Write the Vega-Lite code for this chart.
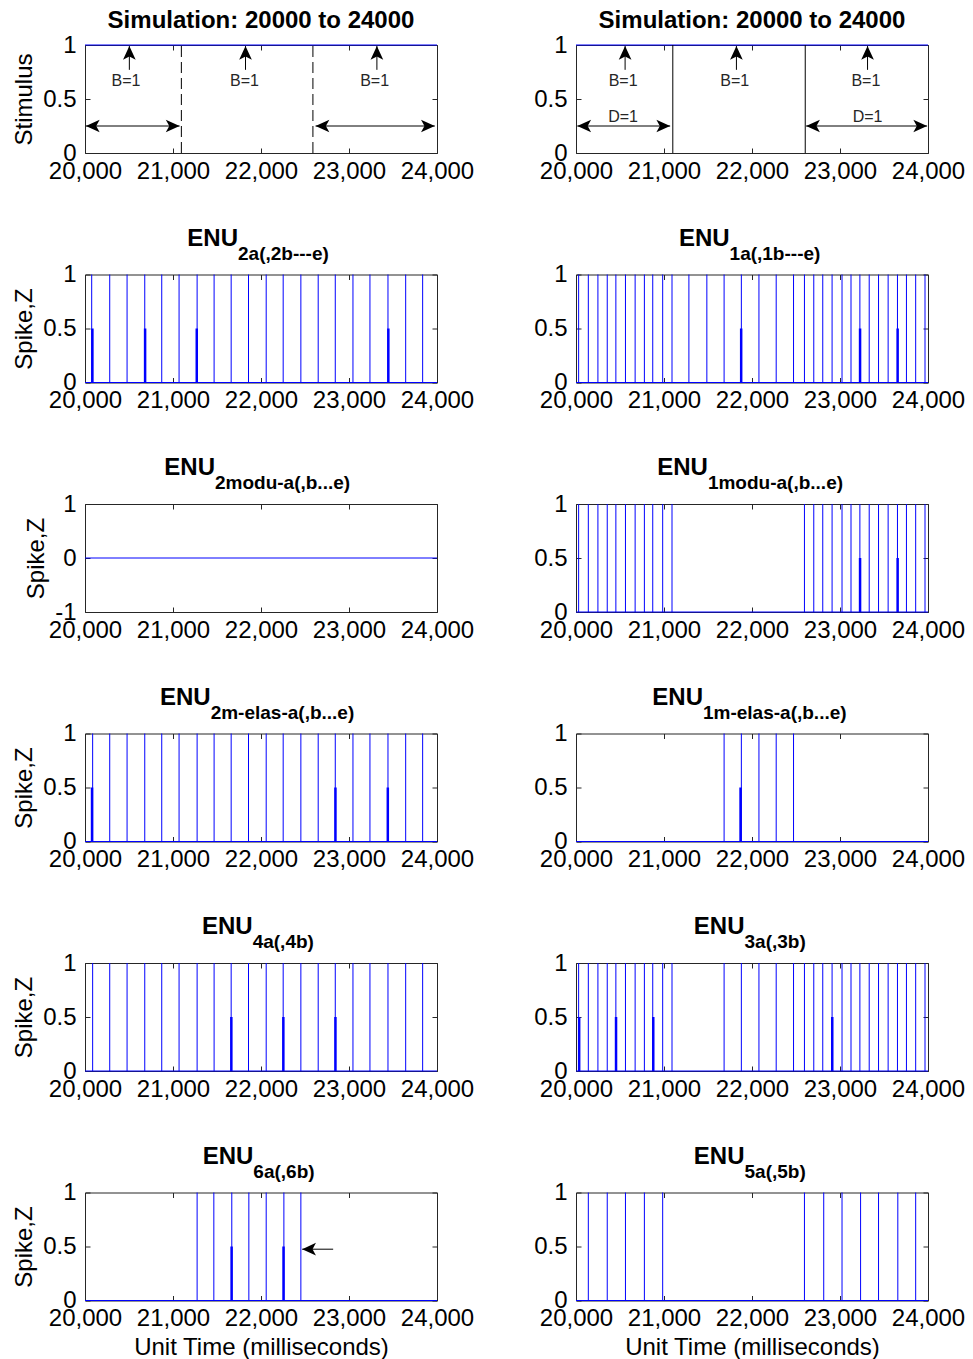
{
"$schema": "https://vega.github.io/schema/vega-lite/v6.json",
"autosize": {"type": "pad"},
"padding": {"left": 11, "top": 8, "right": 0, "bottom": 0},
"background": "white",
"bounds": "flush",
"columns": 2,
"spacing": {"row": 121.5, "column": 139},
"datasets": {
"enu2a": [{"t":20076,"z":1},{"t":20281,"z":1},{"t":20478,"z":1},{"t":20679,"z":1},{"t":20872,"z":1},{"t":21069,"z":1},{"t":21274,"z":1},{"t":21467,"z":1},{"t":21661,"z":1},{"t":21858,"z":1},{"t":22059,"z":1},{"t":22252,"z":1},{"t":22453,"z":1},{"t":22650,"z":1},{"t":22844,"z":1},{"t":23045,"z":1},{"t":23238,"z":1},{"t":23443,"z":1},{"t":23644,"z":1},{"t":23837,"z":1},{"t":20084,"z":0.5},{"t":20683,"z":0.5},{"t":21270,"z":0.5},{"t":23447,"z":0.5}],
"enu1a": [{"t":20030,"z":1},{"t":20140,"z":1},{"t":20249,"z":1},{"t":20355,"z":1},{"t":20453,"z":1},{"t":20562,"z":1},{"t":20672,"z":1},{"t":20777,"z":1},{"t":20872,"z":1},{"t":20985,"z":1},{"t":21091,"z":1},{"t":21283,"z":1},{"t":21487,"z":1},{"t":21683,"z":1},{"t":21879,"z":1},{"t":22079,"z":1},{"t":22275,"z":1},{"t":22472,"z":1},{"t":22596,"z":1},{"t":22702,"z":1},{"t":22804,"z":1},{"t":22910,"z":1},{"t":23023,"z":1},{"t":23125,"z":1},{"t":23226,"z":1},{"t":23332,"z":1},{"t":23438,"z":1},{"t":23547,"z":1},{"t":23653,"z":1},{"t":23755,"z":1},{"t":23860,"z":1},{"t":23966,"z":1},{"t":21877,"z":0.5},{"t":23228,"z":0.5},{"t":23655,"z":0.5}],
"enu1modu": [{"t":20030,"z":1},{"t":20140,"z":1},{"t":20249,"z":1},{"t":20355,"z":1},{"t":20453,"z":1},{"t":20562,"z":1},{"t":20672,"z":1},{"t":20777,"z":1},{"t":20872,"z":1},{"t":20985,"z":1},{"t":21091,"z":1},{"t":22596,"z":1},{"t":22702,"z":1},{"t":22804,"z":1},{"t":22910,"z":1},{"t":23023,"z":1},{"t":23125,"z":1},{"t":23226,"z":1},{"t":23332,"z":1},{"t":23438,"z":1},{"t":23547,"z":1},{"t":23653,"z":1},{"t":23755,"z":1},{"t":23860,"z":1},{"t":23966,"z":1},{"t":23228,"z":0.5},{"t":23655,"z":0.5}],
"enu2melas": [{"t":20087,"z":1},{"t":20281,"z":1},{"t":20478,"z":1},{"t":20679,"z":1},{"t":20872,"z":1},{"t":21069,"z":1},{"t":21274,"z":1},{"t":21467,"z":1},{"t":21661,"z":1},{"t":21858,"z":1},{"t":22059,"z":1},{"t":22252,"z":1},{"t":22453,"z":1},{"t":22650,"z":1},{"t":22844,"z":1},{"t":23045,"z":1},{"t":23238,"z":1},{"t":23443,"z":1},{"t":23644,"z":1},{"t":23837,"z":1},{"t":20080,"z":0.5},{"t":22846,"z":0.5},{"t":23441,"z":0.5}],
"enu1melas": [{"t":21683,"z":1},{"t":21879,"z":1},{"t":22079,"z":1},{"t":22275,"z":1},{"t":22472,"z":1},{"t":21870,"z":0.5}],
"enu4a": [{"t":20087,"z":1},{"t":20281,"z":1},{"t":20478,"z":1},{"t":20679,"z":1},{"t":20872,"z":1},{"t":21069,"z":1},{"t":21274,"z":1},{"t":21467,"z":1},{"t":21661,"z":1},{"t":21858,"z":1},{"t":22059,"z":1},{"t":22252,"z":1},{"t":22453,"z":1},{"t":22650,"z":1},{"t":22844,"z":1},{"t":23045,"z":1},{"t":23238,"z":1},{"t":23443,"z":1},{"t":23644,"z":1},{"t":23837,"z":1},{"t":21663,"z":0.5},{"t":22254,"z":0.5},{"t":22846,"z":0.5}],
"enu3a": [{"t":20030,"z":1},{"t":20140,"z":1},{"t":20249,"z":1},{"t":20355,"z":1},{"t":20453,"z":1},{"t":20562,"z":1},{"t":20672,"z":1},{"t":20777,"z":1},{"t":20872,"z":1},{"t":20985,"z":1},{"t":21091,"z":1},{"t":21683,"z":1},{"t":21879,"z":1},{"t":22079,"z":1},{"t":22275,"z":1},{"t":22472,"z":1},{"t":22596,"z":1},{"t":22702,"z":1},{"t":22804,"z":1},{"t":22910,"z":1},{"t":23023,"z":1},{"t":23125,"z":1},{"t":23226,"z":1},{"t":23332,"z":1},{"t":23438,"z":1},{"t":23547,"z":1},{"t":23653,"z":1},{"t":23755,"z":1},{"t":23860,"z":1},{"t":23966,"z":1},{"t":20036,"z":0.5},{"t":20455,"z":0.5},{"t":20878,"z":0.5},{"t":22912,"z":0.5}],
"enu6a": [{"t":21274,"z":1},{"t":21464,"z":1},{"t":21668,"z":1},{"t":21862,"z":1},{"t":22059,"z":1},{"t":22260,"z":1},{"t":22453,"z":1},{"t":21666,"z":0.5},{"t":22256,"z":0.5}],
"enu5a": [{"t":20140,"z":1},{"t":20355,"z":1},{"t":20562,"z":1},{"t":20777,"z":1},{"t":20985,"z":1},{"t":22596,"z":1},{"t":22815,"z":1},{"t":23023,"z":1},{"t":23234,"z":1},{"t":23438,"z":1},{"t":23657,"z":1},{"t":23860,"z":1}],
"stimL_bounds": [{"t":21095},{"t":22590}],
"stimR_bounds": [{"t":21100},{"t":22605}],
"stimL_shafts": [{"x":20010,"x2":21075,"y":0.25,"y2":0.25},{"x":22620,"x2":23975,"y":0.25,"y2":0.25},{"x":20504,"x2":20504,"y":0.77,"y2":0.99},{"x":21824,"x2":21824,"y":0.77,"y2":0.99},{"x":23317,"x2":23317,"y":0.77,"y2":0.99}],
"stimL_heads": [{"x":20010,"y":0.25,"dir":"left"},{"x":21075,"y":0.25,"dir":"right"},{"x":22620,"y":0.25,"dir":"left"},{"x":23975,"y":0.25,"dir":"right"},{"x":20504,"y":0.99,"dir":"up"},{"x":21824,"y":0.99,"dir":"up"},{"x":23317,"y":0.99,"dir":"up"}],
"stimL_text": [{"x":20466,"y":0.665,"label":"B=1"},{"x":21812,"y":0.665,"label":"B=1"},{"x":23291,"y":0.665,"label":"B=1"}],
"stimR_shafts": [{"x":20015,"x2":21070,"y":0.25,"y2":0.25},{"x":22615,"x2":23990,"y":0.25,"y2":0.25},{"x":20558,"x2":20558,"y":0.77,"y2":0.99},{"x":21823,"x2":21823,"y":0.77,"y2":0.99},{"x":23313,"x2":23313,"y":0.77,"y2":0.99}],
"stimR_heads": [{"x":20015,"y":0.25,"dir":"left"},{"x":21070,"y":0.25,"dir":"right"},{"x":22615,"y":0.25,"dir":"left"},{"x":23990,"y":0.25,"dir":"right"},{"x":20558,"y":0.99,"dir":"up"},{"x":21823,"y":0.99,"dir":"up"},{"x":23313,"y":0.99,"dir":"up"}],
"stimR_text": [{"x":20535,"y":0.665,"label":"B=1"},{"x":21804,"y":0.665,"label":"B=1"},{"x":23294,"y":0.665,"label":"B=1"},{"x":20535,"y":0.332,"label":"D=1"},{"x":23313,"y":0.332,"label":"D=1"}],
"enu6a_shaft": [{"x":22468,"x2":22820,"y":0.475,"y2":0.475}],
"enu6a_head": [{"x":22468,"y":0.475,"dir":"left"}],
"base0": [{"level":0}],
"base1": [{"level":1}]
},
"concat": [
{"width":352,"height":108,
 "title":{"text":"Simulation: 20000 to 24000","offset":-19,"baseline":"alphabetic","frame":"group"},
 "resolve":{"axis":{"x":"independent","y":"independent"}},
 "layer":[
  {"data":{"name":"base1"},"mark":{"type":"rule","color":"#0000ff"},
   "encoding":{"x":{"datum":20000,"type":"quantitative","scale":{"domain":[20000,24000],"nice":false,"zero":false},"axis":{"orient":"bottom","values":[20000,21000,22000,23000,24000],"format":",d","labelBaseline":"alphabetic","labelPadding":30,"title":null}},"x2":{"datum":24000},
    "y":{"field":"level","type":"quantitative","scale":{"domain":[0,1],"nice":false},"axis":{"orient":"left","values":[0,0.5,1],"labelExpr":"'' + datum.value","labelPadding":14,"title":"Stimulus","titleX":-54,"titleBaseline":"alphabetic"}}}},
  {"data":{"name":"stimL_bounds"},"mark":{"type":"rule","color":"#000","strokeDash":[11,5]},
   "encoding":{"x":{"field":"t","type":"quantitative","axis":{"orient":"top","values":[20000,21000,22000,23000,24000],"labels":false,"title":null}},"y":{"datum":0,"type":"quantitative","axis":{"orient":"right","values":[0,0.5,1],"labels":false,"title":null}},"y2":{"datum":1}}},
  {"data":{"name":"stimL_shafts"},"mark":{"type":"rule","color":"#000"},
   "encoding":{"x":{"field":"x","type":"quantitative","axis":null},"x2":{"field":"x2"},"y":{"field":"y","type":"quantitative","axis":null},"y2":{"field":"y2"}}},
  {"data":{"name":"stimL_heads"},"mark":{"type":"point","filled":true,"opacity":1,"color":"#000","size":190,"strokeWidth":0},
   "encoding":{"x":{"field":"x","type":"quantitative","axis":null},"y":{"field":"y","type":"quantitative","axis":null},"shape":{"field":"dir","type":"nominal","scale":{"domain":["up","right","left"],"range":["M0,0L0.92,2L0,1.5L-0.92,2Z","M0,0L-2,0.92L-1.5,0L-2,-0.92Z","M0,0L2,-0.92L1.5,0L2,0.92Z"]},"legend":null}}},
  {"data":{"name":"stimL_text"},"mark":{"type":"text","fontSize":16,"color":"#262626","baseline":"middle"},
   "encoding":{"x":{"field":"x","type":"quantitative","axis":null},"y":{"field":"y","type":"quantitative","axis":null},"text":{"field":"label"}}}
 ]},
{"width":352,"height":108,
 "title":{"text":"Simulation: 20000 to 24000","offset":-19,"baseline":"alphabetic","frame":"group"},
 "resolve":{"axis":{"x":"independent","y":"independent"}},
 "layer":[
  {"data":{"name":"base1"},"mark":{"type":"rule","color":"#0000ff"},
   "encoding":{"x":{"datum":20000,"type":"quantitative","scale":{"domain":[20000,24000],"nice":false,"zero":false},"axis":{"orient":"bottom","values":[20000,21000,22000,23000,24000],"format":",d","labelBaseline":"alphabetic","labelPadding":30,"title":null}},"x2":{"datum":24000},
    "y":{"field":"level","type":"quantitative","scale":{"domain":[0,1],"nice":false},"axis":{"orient":"left","values":[0,0.5,1],"labelExpr":"'' + datum.value","labelPadding":14,"title":null}}}},
  {"data":{"name":"stimR_bounds"},"mark":{"type":"rule","color":"#000"},
   "encoding":{"x":{"field":"t","type":"quantitative","axis":{"orient":"top","values":[20000,21000,22000,23000,24000],"labels":false,"title":null}},"y":{"datum":0,"type":"quantitative","axis":{"orient":"right","values":[0,0.5,1],"labels":false,"title":null}},"y2":{"datum":1}}},
  {"data":{"name":"stimR_shafts"},"mark":{"type":"rule","color":"#000"},
   "encoding":{"x":{"field":"x","type":"quantitative","axis":null},"x2":{"field":"x2"},"y":{"field":"y","type":"quantitative","axis":null},"y2":{"field":"y2"}}},
  {"data":{"name":"stimR_heads"},"mark":{"type":"point","filled":true,"opacity":1,"color":"#000","size":190,"strokeWidth":0},
   "encoding":{"x":{"field":"x","type":"quantitative","axis":null},"y":{"field":"y","type":"quantitative","axis":null},"shape":{"field":"dir","type":"nominal","scale":{"domain":["up","right","left"],"range":["M0,0L0.92,2L0,1.5L-0.92,2Z","M0,0L-2,0.92L-1.5,0L-2,-0.92Z","M0,0L2,-0.92L1.5,0L2,0.92Z"]},"legend":null}}},
  {"data":{"name":"stimR_text"},"mark":{"type":"text","fontSize":16,"color":"#262626","baseline":"middle"},
   "encoding":{"x":{"field":"x","type":"quantitative","axis":null},"y":{"field":"y","type":"quantitative","axis":null},"text":{"field":"label"}}}
 ]},
{"width":352,"height":108,
 "resolve":{"axis":{"x":"independent","y":"independent"}},
 "layer":[
  {"data":{"name":"enu2a"},"mark":{"type":"rule","color":"#0000ff"},
   "encoding":{"x":{"field":"t","type":"quantitative","scale":{"domain":[20000,24000],"nice":false,"zero":false},"axis":{"orient":"bottom","values":[20000,21000,22000,23000,24000],"format":",d","labelBaseline":"alphabetic","labelPadding":30,"title":null}},
    "y":{"field":"z","type":"quantitative","scale":{"domain":[0,1],"nice":false},"axis":{"orient":"left","values":[0,0.5,1],"labelExpr":"'' + datum.value","labelPadding":14,"title":"Spike,Z","titleX":-54,"titleBaseline":"alphabetic"}},
    "y2":{"datum":0},
    "strokeWidth":{"condition":{"test":"datum.z < 1","value":2.5},"value":1}}},
  {"data":{"name":"base0"},"mark":{"type":"rule","color":"#0000ff"},
   "encoding":{"x":{"datum":20000,"type":"quantitative","axis":{"orient":"top","values":[20000,21000,22000,23000,24000],"labels":false,"title":null}},"x2":{"datum":24000},"y":{"field":"level","type":"quantitative","axis":{"orient":"right","values":[0,0.5,1],"labels":false,"title":null}}}},
  {"data":{"values":[{"main":"ENU","sub":"2a(,2b---e)"}]},"mark":{"type":"text","align":"right","baseline":"alphabetic","dy":-29,"fontSize":24,"fontWeight":"bold","color":"#000"},
   "encoding":{"x":{"datum":21739,"type":"quantitative","axis":null},"y":{"datum":1,"type":"quantitative","axis":null},"text":{"field":"main"}}},
  {"data":{"values":[{"main":"ENU","sub":"2a(,2b---e)"}]},"mark":{"type":"text","align":"left","baseline":"alphabetic","dy":-15,"fontSize":19,"fontWeight":"bold","color":"#000"},
   "encoding":{"x":{"datum":21739,"type":"quantitative","axis":null},"y":{"datum":1,"type":"quantitative","axis":null},"text":{"field":"sub"}}}
 ]},
{"width":352,"height":108,
 "resolve":{"axis":{"x":"independent","y":"independent"}},
 "layer":[
  {"data":{"name":"enu1a"},"mark":{"type":"rule","color":"#0000ff"},
   "encoding":{"x":{"field":"t","type":"quantitative","scale":{"domain":[20000,24000],"nice":false,"zero":false},"axis":{"orient":"bottom","values":[20000,21000,22000,23000,24000],"format":",d","labelBaseline":"alphabetic","labelPadding":30,"title":null}},
    "y":{"field":"z","type":"quantitative","scale":{"domain":[0,1],"nice":false},"axis":{"orient":"left","values":[0,0.5,1],"labelExpr":"'' + datum.value","labelPadding":14,"title":null}},
    "y2":{"datum":0},
    "strokeWidth":{"condition":{"test":"datum.z < 1","value":2.5},"value":1}}},
  {"data":{"name":"base0"},"mark":{"type":"rule","color":"#0000ff"},
   "encoding":{"x":{"datum":20000,"type":"quantitative","axis":{"orient":"top","values":[20000,21000,22000,23000,24000],"labels":false,"title":null}},"x2":{"datum":24000},"y":{"field":"level","type":"quantitative","axis":{"orient":"right","values":[0,0.5,1],"labels":false,"title":null}}}},
  {"data":{"values":[{"main":"ENU","sub":"1a(,1b---e)"}]},"mark":{"type":"text","align":"right","baseline":"alphabetic","dy":-29,"fontSize":24,"fontWeight":"bold","color":"#000"},
   "encoding":{"x":{"datum":21745,"type":"quantitative","axis":null},"y":{"datum":1,"type":"quantitative","axis":null},"text":{"field":"main"}}},
  {"data":{"values":[{"main":"ENU","sub":"1a(,1b---e)"}]},"mark":{"type":"text","align":"left","baseline":"alphabetic","dy":-15,"fontSize":19,"fontWeight":"bold","color":"#000"},
   "encoding":{"x":{"datum":21745,"type":"quantitative","axis":null},"y":{"datum":1,"type":"quantitative","axis":null},"text":{"field":"sub"}}}
 ]},
{"width":352,"height":108,
 "resolve":{"axis":{"x":"independent","y":"independent"}},
 "layer":[
  {"data":{"name":"base0"},"mark":{"type":"rule","color":"#0000ff"},
   "encoding":{"x":{"datum":20000,"type":"quantitative","scale":{"domain":[20000,24000],"nice":false,"zero":false},"axis":{"orient":"bottom","values":[20000,21000,22000,23000,24000],"format":",d","labelBaseline":"alphabetic","labelPadding":30,"title":null}},"x2":{"datum":24000},
    "y":{"field":"level","type":"quantitative","scale":{"domain":[-1,1],"nice":false},"axis":{"orient":"left","values":[-1,0,1],"labelExpr":"'' + datum.value","labelPadding":14,"title":"Spike,Z","titleX":-42,"titleBaseline":"alphabetic"}}}},
  {"data":{"values":[{"main":"ENU","sub":"2modu-a(,b...e)"}]},"mark":{"type":"text","align":"right","baseline":"alphabetic","dy":-29,"fontSize":24,"fontWeight":"bold","color":"#000"},
   "encoding":{"x":{"datum":21477,"type":"quantitative","axis":{"orient":"top","values":[20000,21000,22000,23000,24000],"labels":false,"title":null}},"y":{"datum":1,"type":"quantitative","axis":{"orient":"right","values":[-1,0,1],"labels":false,"title":null}},"text":{"field":"main"}}},
  {"data":{"values":[{"main":"ENU","sub":"2modu-a(,b...e)"}]},"mark":{"type":"text","align":"left","baseline":"alphabetic","dy":-15,"fontSize":19,"fontWeight":"bold","color":"#000"},
   "encoding":{"x":{"datum":21477,"type":"quantitative","axis":null},"y":{"datum":1,"type":"quantitative","axis":null},"text":{"field":"sub"}}}
 ]},
{"width":352,"height":108,
 "resolve":{"axis":{"x":"independent","y":"independent"}},
 "layer":[
  {"data":{"name":"enu1modu"},"mark":{"type":"rule","color":"#0000ff"},
   "encoding":{"x":{"field":"t","type":"quantitative","scale":{"domain":[20000,24000],"nice":false,"zero":false},"axis":{"orient":"bottom","values":[20000,21000,22000,23000,24000],"format":",d","labelBaseline":"alphabetic","labelPadding":30,"title":null}},
    "y":{"field":"z","type":"quantitative","scale":{"domain":[0,1],"nice":false},"axis":{"orient":"left","values":[0,0.5,1],"labelExpr":"'' + datum.value","labelPadding":14,"title":null}},
    "y2":{"datum":0},
    "strokeWidth":{"condition":{"test":"datum.z < 1","value":2.5},"value":1}}},
  {"data":{"name":"base0"},"mark":{"type":"rule","color":"#0000ff"},
   "encoding":{"x":{"datum":20000,"type":"quantitative","axis":{"orient":"top","values":[20000,21000,22000,23000,24000],"labels":false,"title":null}},"x2":{"datum":24000},"y":{"field":"level","type":"quantitative","axis":{"orient":"right","values":[0,0.5,1],"labels":false,"title":null}}}},
  {"data":{"values":[{"main":"ENU","sub":"1modu-a(,b...e)"}]},"mark":{"type":"text","align":"right","baseline":"alphabetic","dy":-29,"fontSize":24,"fontWeight":"bold","color":"#000"},
   "encoding":{"x":{"datum":21499,"type":"quantitative","axis":null},"y":{"datum":1,"type":"quantitative","axis":null},"text":{"field":"main"}}},
  {"data":{"values":[{"main":"ENU","sub":"1modu-a(,b...e)"}]},"mark":{"type":"text","align":"left","baseline":"alphabetic","dy":-15,"fontSize":19,"fontWeight":"bold","color":"#000"},
   "encoding":{"x":{"datum":21499,"type":"quantitative","axis":null},"y":{"datum":1,"type":"quantitative","axis":null},"text":{"field":"sub"}}}
 ]},
{"width":352,"height":108,
 "resolve":{"axis":{"x":"independent","y":"independent"}},
 "layer":[
  {"data":{"name":"enu2melas"},"mark":{"type":"rule","color":"#0000ff"},
   "encoding":{"x":{"field":"t","type":"quantitative","scale":{"domain":[20000,24000],"nice":false,"zero":false},"axis":{"orient":"bottom","values":[20000,21000,22000,23000,24000],"format":",d","labelBaseline":"alphabetic","labelPadding":30,"title":null}},
    "y":{"field":"z","type":"quantitative","scale":{"domain":[0,1],"nice":false},"axis":{"orient":"left","values":[0,0.5,1],"labelExpr":"'' + datum.value","labelPadding":14,"title":"Spike,Z","titleX":-54,"titleBaseline":"alphabetic"}},
    "y2":{"datum":0},
    "strokeWidth":{"condition":{"test":"datum.z < 1","value":2.5},"value":1}}},
  {"data":{"name":"base0"},"mark":{"type":"rule","color":"#0000ff"},
   "encoding":{"x":{"datum":20000,"type":"quantitative","axis":{"orient":"top","values":[20000,21000,22000,23000,24000],"labels":false,"title":null}},"x2":{"datum":24000},"y":{"field":"level","type":"quantitative","axis":{"orient":"right","values":[0,0.5,1],"labels":false,"title":null}}}},
  {"data":{"values":[{"main":"ENU","sub":"2m-elas-a(,b...e)"}]},"mark":{"type":"text","align":"right","baseline":"alphabetic","dy":-29,"fontSize":24,"fontWeight":"bold","color":"#000"},
   "encoding":{"x":{"datum":21428,"type":"quantitative","axis":null},"y":{"datum":1,"type":"quantitative","axis":null},"text":{"field":"main"}}},
  {"data":{"values":[{"main":"ENU","sub":"2m-elas-a(,b...e)"}]},"mark":{"type":"text","align":"left","baseline":"alphabetic","dy":-15,"fontSize":19,"fontWeight":"bold","color":"#000"},
   "encoding":{"x":{"datum":21428,"type":"quantitative","axis":null},"y":{"datum":1,"type":"quantitative","axis":null},"text":{"field":"sub"}}}
 ]},
{"width":352,"height":108,
 "resolve":{"axis":{"x":"independent","y":"independent"}},
 "layer":[
  {"data":{"name":"enu1melas"},"mark":{"type":"rule","color":"#0000ff"},
   "encoding":{"x":{"field":"t","type":"quantitative","scale":{"domain":[20000,24000],"nice":false,"zero":false},"axis":{"orient":"bottom","values":[20000,21000,22000,23000,24000],"format":",d","labelBaseline":"alphabetic","labelPadding":30,"title":null}},
    "y":{"field":"z","type":"quantitative","scale":{"domain":[0,1],"nice":false},"axis":{"orient":"left","values":[0,0.5,1],"labelExpr":"'' + datum.value","labelPadding":14,"title":null}},
    "y2":{"datum":0},
    "strokeWidth":{"condition":{"test":"datum.z < 1","value":2.5},"value":1}}},
  {"data":{"name":"base0"},"mark":{"type":"rule","color":"#0000ff"},
   "encoding":{"x":{"datum":20000,"type":"quantitative","axis":{"orient":"top","values":[20000,21000,22000,23000,24000],"labels":false,"title":null}},"x2":{"datum":24000},"y":{"field":"level","type":"quantitative","axis":{"orient":"right","values":[0,0.5,1],"labels":false,"title":null}}}},
  {"data":{"values":[{"main":"ENU","sub":"1m-elas-a(,b...e)"}]},"mark":{"type":"text","align":"right","baseline":"alphabetic","dy":-29,"fontSize":24,"fontWeight":"bold","color":"#000"},
   "encoding":{"x":{"datum":21443,"type":"quantitative","axis":null},"y":{"datum":1,"type":"quantitative","axis":null},"text":{"field":"main"}}},
  {"data":{"values":[{"main":"ENU","sub":"1m-elas-a(,b...e)"}]},"mark":{"type":"text","align":"left","baseline":"alphabetic","dy":-15,"fontSize":19,"fontWeight":"bold","color":"#000"},
   "encoding":{"x":{"datum":21443,"type":"quantitative","axis":null},"y":{"datum":1,"type":"quantitative","axis":null},"text":{"field":"sub"}}}
 ]},
{"width":352,"height":108,
 "resolve":{"axis":{"x":"independent","y":"independent"}},
 "layer":[
  {"data":{"name":"enu4a"},"mark":{"type":"rule","color":"#0000ff"},
   "encoding":{"x":{"field":"t","type":"quantitative","scale":{"domain":[20000,24000],"nice":false,"zero":false},"axis":{"orient":"bottom","values":[20000,21000,22000,23000,24000],"format":",d","labelBaseline":"alphabetic","labelPadding":30,"title":null}},
    "y":{"field":"z","type":"quantitative","scale":{"domain":[0,1],"nice":false},"axis":{"orient":"left","values":[0,0.5,1],"labelExpr":"'' + datum.value","labelPadding":14,"title":"Spike,Z","titleX":-54,"titleBaseline":"alphabetic"}},
    "y2":{"datum":0},
    "strokeWidth":{"condition":{"test":"datum.z < 1","value":2.5},"value":1}}},
  {"data":{"name":"base0"},"mark":{"type":"rule","color":"#0000ff"},
   "encoding":{"x":{"datum":20000,"type":"quantitative","axis":{"orient":"top","values":[20000,21000,22000,23000,24000],"labels":false,"title":null}},"x2":{"datum":24000},"y":{"field":"level","type":"quantitative","axis":{"orient":"right","values":[0,0.5,1],"labels":false,"title":null}}}},
  {"data":{"values":[{"main":"ENU","sub":"4a(,4b)"}]},"mark":{"type":"text","align":"right","baseline":"alphabetic","dy":-29,"fontSize":24,"fontWeight":"bold","color":"#000"},
   "encoding":{"x":{"datum":21905,"type":"quantitative","axis":null},"y":{"datum":1,"type":"quantitative","axis":null},"text":{"field":"main"}}},
  {"data":{"values":[{"main":"ENU","sub":"4a(,4b)"}]},"mark":{"type":"text","align":"left","baseline":"alphabetic","dy":-15,"fontSize":19,"fontWeight":"bold","color":"#000"},
   "encoding":{"x":{"datum":21905,"type":"quantitative","axis":null},"y":{"datum":1,"type":"quantitative","axis":null},"text":{"field":"sub"}}}
 ]},
{"width":352,"height":108,
 "resolve":{"axis":{"x":"independent","y":"independent"}},
 "layer":[
  {"data":{"name":"enu3a"},"mark":{"type":"rule","color":"#0000ff"},
   "encoding":{"x":{"field":"t","type":"quantitative","scale":{"domain":[20000,24000],"nice":false,"zero":false},"axis":{"orient":"bottom","values":[20000,21000,22000,23000,24000],"format":",d","labelBaseline":"alphabetic","labelPadding":30,"title":null}},
    "y":{"field":"z","type":"quantitative","scale":{"domain":[0,1],"nice":false},"axis":{"orient":"left","values":[0,0.5,1],"labelExpr":"'' + datum.value","labelPadding":14,"title":null}},
    "y2":{"datum":0},
    "strokeWidth":{"condition":{"test":"datum.z < 1","value":2.5},"value":1}}},
  {"data":{"name":"base0"},"mark":{"type":"rule","color":"#0000ff"},
   "encoding":{"x":{"datum":20000,"type":"quantitative","axis":{"orient":"top","values":[20000,21000,22000,23000,24000],"labels":false,"title":null}},"x2":{"datum":24000},"y":{"field":"level","type":"quantitative","axis":{"orient":"right","values":[0,0.5,1],"labels":false,"title":null}}}},
  {"data":{"values":[{"main":"ENU","sub":"3a(,3b)"}]},"mark":{"type":"text","align":"right","baseline":"alphabetic","dy":-29,"fontSize":24,"fontWeight":"bold","color":"#000"},
   "encoding":{"x":{"datum":21915,"type":"quantitative","axis":null},"y":{"datum":1,"type":"quantitative","axis":null},"text":{"field":"main"}}},
  {"data":{"values":[{"main":"ENU","sub":"3a(,3b)"}]},"mark":{"type":"text","align":"left","baseline":"alphabetic","dy":-15,"fontSize":19,"fontWeight":"bold","color":"#000"},
   "encoding":{"x":{"datum":21915,"type":"quantitative","axis":null},"y":{"datum":1,"type":"quantitative","axis":null},"text":{"field":"sub"}}}
 ]},
{"width":352,"height":108,
 "resolve":{"axis":{"x":"independent","y":"independent"}},
 "layer":[
  {"data":{"name":"enu6a"},"mark":{"type":"rule","color":"#0000ff"},
   "encoding":{"x":{"field":"t","type":"quantitative","scale":{"domain":[20000,24000],"nice":false,"zero":false},"axis":{"orient":"bottom","values":[20000,21000,22000,23000,24000],"format":",d","labelBaseline":"alphabetic","labelPadding":30,"title":"Unit Time (milliseconds)","titleY":54,"titleBaseline":"alphabetic"}},
    "y":{"field":"z","type":"quantitative","scale":{"domain":[0,1],"nice":false},"axis":{"orient":"left","values":[0,0.5,1],"labelExpr":"'' + datum.value","labelPadding":14,"title":"Spike,Z","titleX":-54,"titleBaseline":"alphabetic"}},
    "y2":{"datum":0},
    "strokeWidth":{"condition":{"test":"datum.z < 1","value":2.5},"value":1}}},
  {"data":{"name":"base0"},"mark":{"type":"rule","color":"#0000ff"},
   "encoding":{"x":{"datum":20000,"type":"quantitative","axis":{"orient":"top","values":[20000,21000,22000,23000,24000],"labels":false,"title":null}},"x2":{"datum":24000},"y":{"field":"level","type":"quantitative","axis":{"orient":"right","values":[0,0.5,1],"labels":false,"title":null}}}},
  {"data":{"name":"enu6a_shaft"},"mark":{"type":"rule","color":"#000"},
   "encoding":{"x":{"field":"x","type":"quantitative","axis":null},"x2":{"field":"x2"},"y":{"field":"y","type":"quantitative","axis":null},"y2":{"field":"y2"}}},
  {"data":{"name":"enu6a_head"},"mark":{"type":"point","filled":true,"opacity":1,"color":"#000","size":190,"strokeWidth":0},
   "encoding":{"x":{"field":"x","type":"quantitative","axis":null},"y":{"field":"y","type":"quantitative","axis":null},"shape":{"field":"dir","type":"nominal","scale":{"domain":["up","right","left"],"range":["M0,0L0.92,2L0,1.5L-0.92,2Z","M0,0L-2,0.92L-1.5,0L-2,-0.92Z","M0,0L2,-0.92L1.5,0L2,0.92Z"]},"legend":null}}},
  {"data":{"values":[{"main":"ENU","sub":"6a(,6b)"}]},"mark":{"type":"text","align":"right","baseline":"alphabetic","dy":-29,"fontSize":24,"fontWeight":"bold","color":"#000"},
   "encoding":{"x":{"datum":21913,"type":"quantitative","axis":null},"y":{"datum":1,"type":"quantitative","axis":null},"text":{"field":"main"}}},
  {"data":{"values":[{"main":"ENU","sub":"6a(,6b)"}]},"mark":{"type":"text","align":"left","baseline":"alphabetic","dy":-15,"fontSize":19,"fontWeight":"bold","color":"#000"},
   "encoding":{"x":{"datum":21913,"type":"quantitative","axis":null},"y":{"datum":1,"type":"quantitative","axis":null},"text":{"field":"sub"}}}
 ]},
{"width":352,"height":108,
 "resolve":{"axis":{"x":"independent","y":"independent"}},
 "layer":[
  {"data":{"name":"enu5a"},"mark":{"type":"rule","color":"#0000ff"},
   "encoding":{"x":{"field":"t","type":"quantitative","scale":{"domain":[20000,24000],"nice":false,"zero":false},"axis":{"orient":"bottom","values":[20000,21000,22000,23000,24000],"format":",d","labelBaseline":"alphabetic","labelPadding":30,"title":"Unit Time (milliseconds)","titleY":54,"titleBaseline":"alphabetic"}},
    "y":{"field":"z","type":"quantitative","scale":{"domain":[0,1],"nice":false},"axis":{"orient":"left","values":[0,0.5,1],"labelExpr":"'' + datum.value","labelPadding":14,"title":null}},
    "y2":{"datum":0},
    "strokeWidth":{"condition":{"test":"datum.z < 1","value":2.5},"value":1}}},
  {"data":{"name":"base0"},"mark":{"type":"rule","color":"#0000ff"},
   "encoding":{"x":{"datum":20000,"type":"quantitative","axis":{"orient":"top","values":[20000,21000,22000,23000,24000],"labels":false,"title":null}},"x2":{"datum":24000},"y":{"field":"level","type":"quantitative","axis":{"orient":"right","values":[0,0.5,1],"labels":false,"title":null}}}},
  {"data":{"values":[{"main":"ENU","sub":"5a(,5b)"}]},"mark":{"type":"text","align":"right","baseline":"alphabetic","dy":-29,"fontSize":24,"fontWeight":"bold","color":"#000"},
   "encoding":{"x":{"datum":21915,"type":"quantitative","axis":null},"y":{"datum":1,"type":"quantitative","axis":null},"text":{"field":"main"}}},
  {"data":{"values":[{"main":"ENU","sub":"5a(,5b)"}]},"mark":{"type":"text","align":"left","baseline":"alphabetic","dy":-15,"fontSize":19,"fontWeight":"bold","color":"#000"},
   "encoding":{"x":{"datum":21915,"type":"quantitative","axis":null},"y":{"datum":1,"type":"quantitative","axis":null},"text":{"field":"sub"}}}
 ]}
],
"config": {
 "font": "Liberation Sans",
 "view": {"stroke": "#262626", "strokeWidth": 1},
 "axis": {"grid": false, "domain": false, "ticks": true, "tickSize": -5, "tickColor": "#262626", "labelFont": "Liberation Sans", "labelFontSize": 24, "labelColor": "#000", "titleFont": "Liberation Sans", "titleFontSize": 24, "titleFontWeight": "normal", "titleColor": "#000", "labelFlush": false, "labelOverlap": false},
 "title": {"font": "Liberation Sans", "fontSize": 24, "fontWeight": "bold", "color": "#000"},
 "text": {"font": "Liberation Sans"}
}
}
